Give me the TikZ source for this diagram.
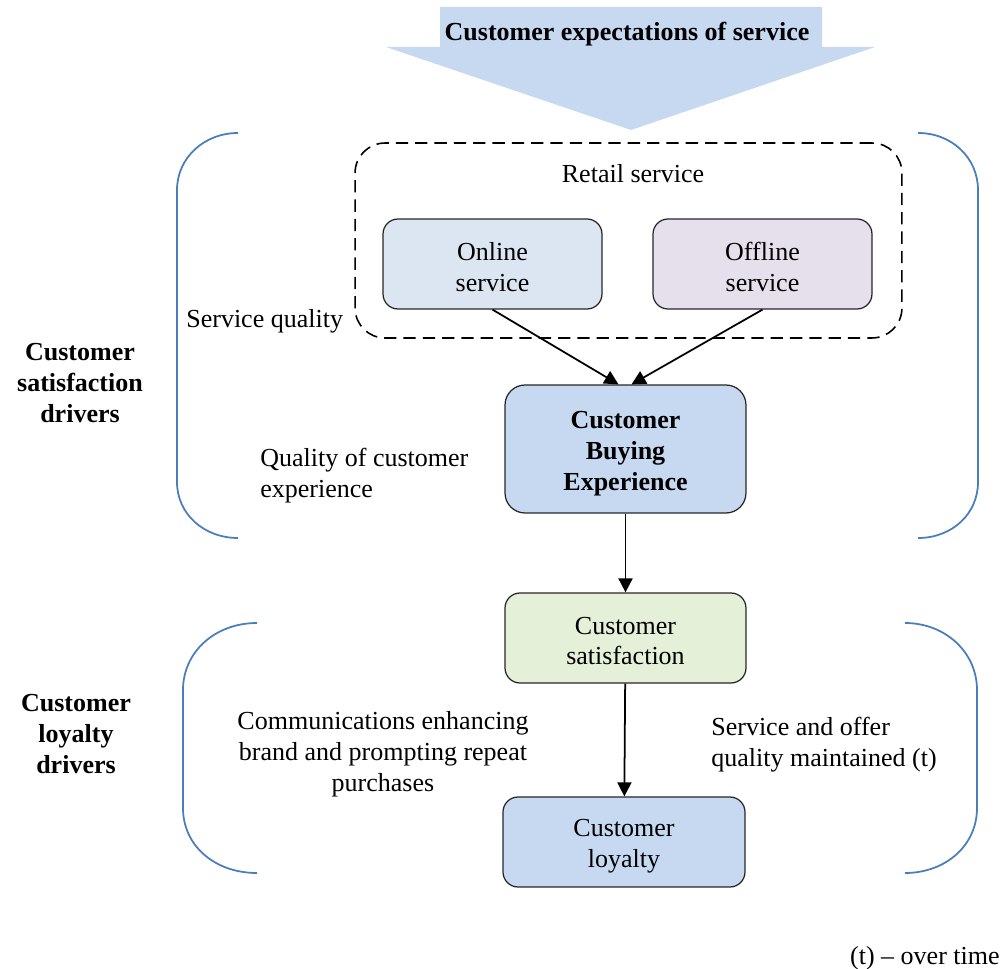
\documentclass[tikz,border=0pt]{standalone}
\usepackage{fontspec}
\setmainfont{Liberation Serif}
\usetikzlibrary{arrows.meta,calc}
\definecolor{arrowblue}{RGB}{198,217,240}
\definecolor{onlinefill}{RGB}{220,230,242}
\definecolor{offlinefill}{RGB}{229,224,236}
\definecolor{cbefill}{RGB}{198,217,241}
\definecolor{satfill}{RGB}{228,240,216}
\definecolor{loyalfill}{RGB}{198,217,241}
\definecolor{braceblue}{RGB}{74,126,187}
\begin{document}
\begin{tikzpicture}[x=0.02cm,y=-0.02cm,
  font=\fontsize{14.8}{17.6}\selectfont,
  box/.style={draw=black!85, line width=0.7pt, rounded corners=0.3cm, inner sep=0pt},
  flow/.style={-{Triangle[length=8pt,width=8pt]}, line width=1pt},
  brace/.style={draw=braceblue, line width=1pt},
  lbl/.style={inner sep=0pt},
  boldtext/.style={font=\fontsize{14.8}{17.6}\selectfont\bfseries}]
\useasboundingbox (0,0) rectangle (1008,969);

% big downward arrow with the heading
\fill[arrowblue] (440,7) -- (822,7) -- (822,47) -- (875,47) -- (631,130) -- (386,47) -- (440,47) -- cycle;
\node[lbl, boldtext] (head) at (627,34) {Customer expectations of service};

% retail service group
\node[draw=black, line width=0.9pt, dash pattern=on 7pt off 4pt, rounded corners=0.6cm,
      minimum width=10.94cm, minimum height=3.9cm, inner sep=0pt] (retail) at (628.5,240.5) {};
\node[lbl] (retaillbl) at (633,174) {Retail service};

% boxes
\node[box, fill=onlinefill, minimum width=4.38cm, minimum height=1.8cm] (online) at (492.5,264) {};
\node[box, fill=offlinefill, minimum width=4.38cm, minimum height=1.8cm] (offline) at (762.5,264) {};
\node[box, fill=cbefill, rounded corners=0.4cm, minimum width=4.82cm, minimum height=2.56cm] (cbe) at (625.5,449) {};
\node[box, fill=satfill, minimum width=4.82cm, minimum height=1.8cm] (sat) at (625.5,638) {};
\node[box, fill=loyalfill, minimum width=4.84cm, minimum height=1.8cm] (loyal) at (624,842) {};

% box texts
\node[lbl, align=center] (onlinetxt) at ($(online)+(0,3)$) {Online\\service};
\node[lbl, align=center] (offlinetxt) at ($(offline)+(0,3)$) {Offline\\service};
\node[lbl, align=center, boldtext] (cbetxt) at ($(cbe)+(0,5)$) {Customer\\Buying\\Experience};
\node[lbl, align=center] (sattxt) at ($(sat)+(0,3)$) {Customer\\satisfaction};
\node[lbl, align=center] (loyaltxt) at ($(loyal)+(0,4)$) {Customer\\loyalty};

% connectors
\draw[flow] (online.south) -- ($(cbe.north)+(-7,0)$);
\draw[flow] (offline.south) -- ($(cbe.north)+(6,0)$);
\draw[flow] (cbe) -- (sat);
\draw[flow] (sat) -- (loyal);

% braces
\draw[brace] (238,133) .. controls (204,133) and (177,158) .. (177,190) -- (177,482)
             .. controls (177,514) and (204,538) .. (238,538);
\draw[brace] (918,133) .. controls (952,133) and (978,158) .. (978,190) -- (978,482)
             .. controls (978,514) and (952,538) .. (918,538);
\draw[brace] (257,623) .. controls (215,623) and (183,652) .. (183,690) -- (183,808)
             .. controls (183,846) and (215,873) .. (257,873);
\draw[brace] (905,623) .. controls (945,623) and (977,652) .. (977,690) -- (977,808)
             .. controls (977,846) and (945,873) .. (905,873);

% labels
\node[lbl, align=center, boldtext] (csd) at (80,383) {Customer\\satisfaction\\drivers};
\node[lbl, align=center, boldtext] (cld) at (76,734) {Customer\\loyalty\\drivers};
\node[lbl, anchor=west] (sq) at (186,321) {Service quality};
\node[lbl, anchor=west, align=left] (qce) at (260,476) {Quality of customer\\experience};
\node[lbl, align=center] (comm) at (383,754) {Communications enhancing\\brand and prompting repeat\\purchases};
\node[lbl, anchor=west, align=left] (soq) at (711,745) {Service and offer\\quality maintained (t)};
\node[lbl, anchor=east] (note) at (1000,958) {(t) -- over time};
\end{tikzpicture}
\end{document}
